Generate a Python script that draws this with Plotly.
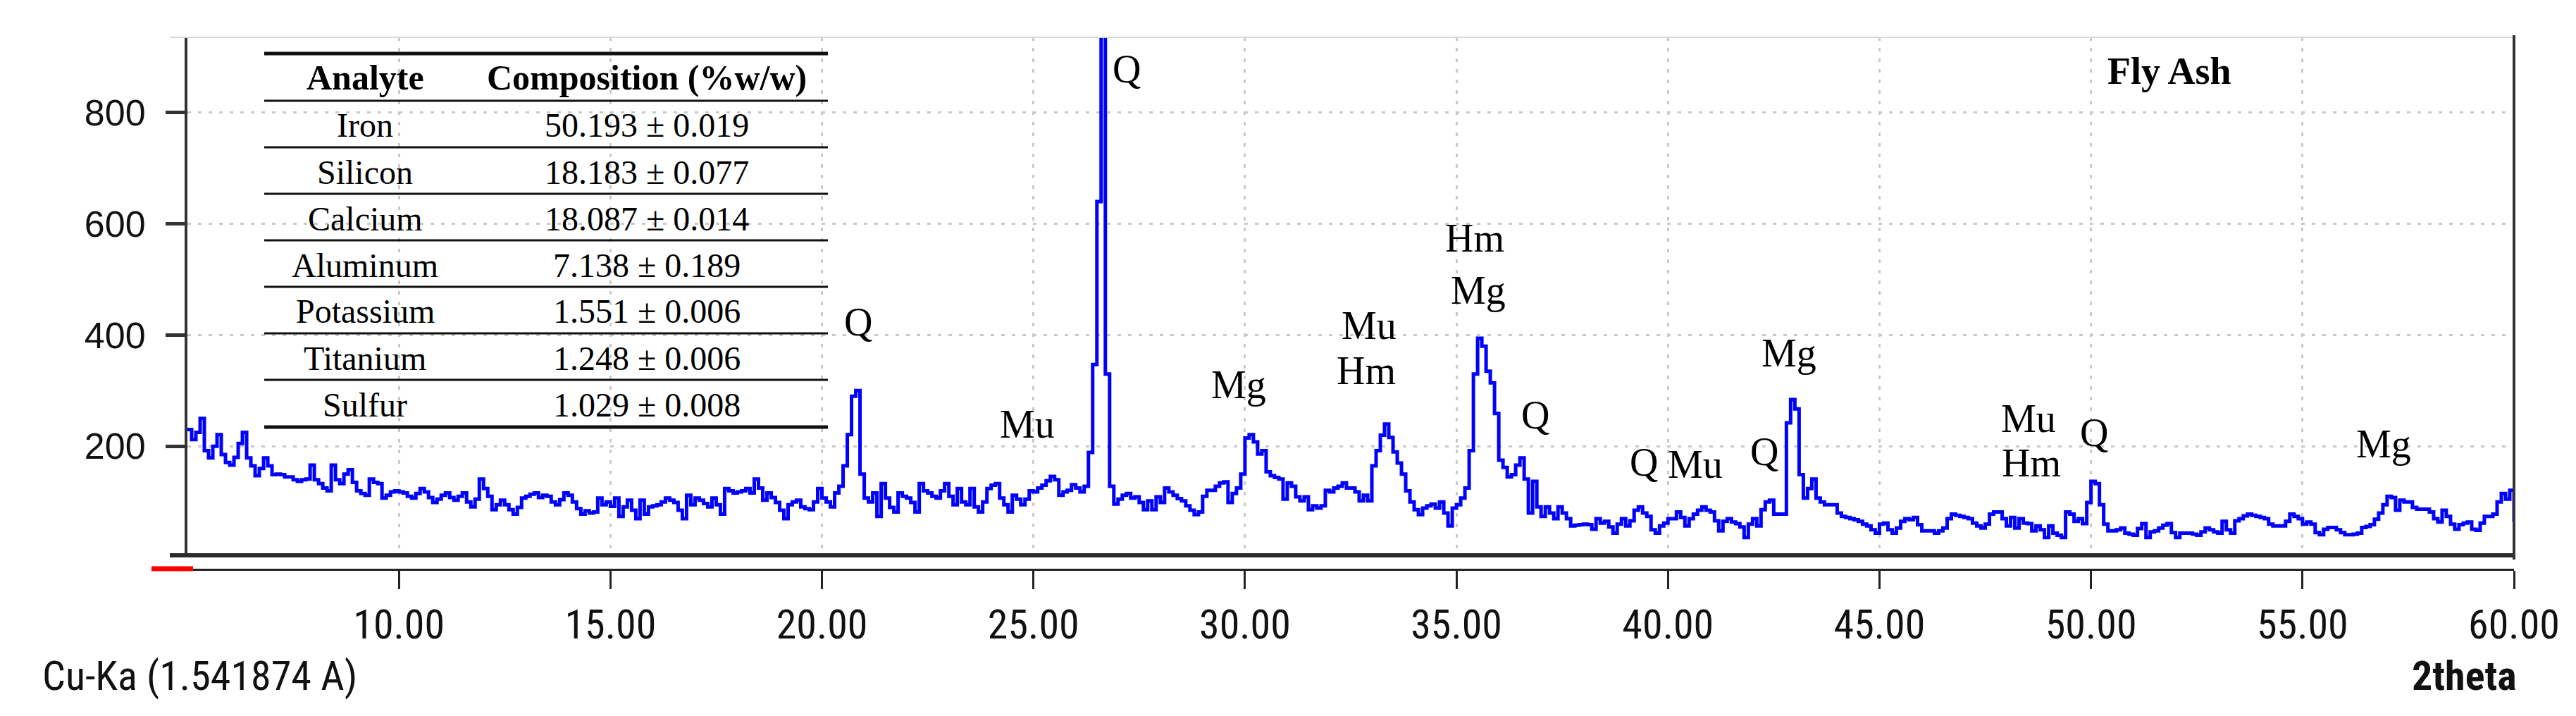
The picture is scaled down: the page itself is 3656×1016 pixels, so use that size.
import numpy as np
import plotly.graph_objects as go

# ---------------- data ----------------
intensity_05_15 = [
    230, 212, 225, 250, 192, 179, 200, 221, 185, 171,
    166, 180, 205, 225, 179, 165, 147, 160, 179, 165,
    149, 150, 149, 145, 145, 140, 137, 140, 141, 166,
    140, 133, 125, 120, 166, 140, 133, 150, 158, 135,
    120, 115, 112, 141, 135, 133, 107, 112, 118, 120,
    118, 116, 110, 107, 115, 124, 118, 108, 99, 105,
    112, 116, 108, 103, 110, 116, 100, 91, 105, 141,
    124, 110, 86, 95, 103, 95, 86, 78, 90, 107,
    110, 114, 116, 108, 112, 110, 100, 95, 104, 116,
    112, 100, 88, 78, 84, 80, 82, 107, 95, 100,
]
intensity_15_25 = [
    92, 107, 74, 91, 103, 85, 70, 103, 78, 91,
    93, 95, 100, 107, 103, 99, 85, 70, 112, 95,
    107, 103, 97, 91, 107, 95, 78, 124, 120, 116,
    118, 120, 124, 116, 141, 125, 103, 116, 108, 99,
    85, 70, 95, 100, 103, 91, 88, 86, 100, 124,
    107, 100, 91, 116, 128, 165, 221, 290, 300, 150,
    107, 100, 116, 74, 133, 107, 90, 82, 116, 110,
    107, 99, 82, 133, 120, 116, 110, 107, 120, 133,
    110, 95, 124, 100, 95, 124, 91, 82, 100, 124,
    130, 133, 107, 95, 82, 112, 105, 95, 105, 120,
]
intensity_25_35 = [
    118, 125, 130, 138, 146, 140, 112, 118, 121, 131,
    125, 118, 128, 189, 347, 640, 1000, 330, 128, 96,
    105, 112, 115, 107, 109, 99, 86, 102, 86, 109,
    99, 125, 118, 112, 106, 102, 93, 85, 77, 82,
    110, 121, 121, 128, 134, 136, 99, 115, 125, 150,
    215, 221, 208, 186, 192, 154, 147, 144, 141, 105,
    134, 128, 109, 102, 109, 86, 93, 89, 93, 121,
    118, 125, 128, 134, 125, 125, 118, 102, 112, 102,
    165, 192, 220, 240, 216, 190, 170, 150, 120, 100,
    86, 77, 89, 93, 96, 89, 100, 80, 57, 89,
]
intensity_35_45 = [
    95, 107, 125, 192, 330, 394, 380, 335, 314, 259,
    175, 162, 145, 149, 166, 179, 141, 80, 137, 91,
    74, 91, 80, 70, 91, 80, 70, 57, 58, 59,
    60, 59, 51, 70, 62, 65, 55, 44, 60, 70,
    57, 66, 85, 91, 80, 74, 50, 44, 57, 62,
    70, 70, 82, 72, 57, 70, 78, 85, 91, 85,
    82, 66, 48, 65, 70, 64, 61, 55, 36, 60,
    70, 57, 86, 100, 103, 78, 78, 78, 242, 284,
    267, 149, 107, 124, 141, 107, 100, 95, 95, 95,
    80, 74, 72, 70, 68, 65, 60, 57, 50, 44,
]
intensity_45_55 = [
    60, 62, 50, 44, 53, 65, 70, 68, 72, 59,
    48, 48, 48, 44, 48, 53, 70, 78, 76, 74,
    72, 70, 62, 57, 53, 60, 78, 82, 82, 70,
    57, 72, 53, 70, 62, 61, 48, 57, 50, 36,
    57, 44, 40, 36, 82, 78, 65, 70, 61, 99,
    137, 133, 95, 60, 48, 48, 50, 53, 44, 42,
    40, 52, 61, 36, 46, 48, 53, 58, 61, 45,
    36, 44, 44, 44, 42, 40, 46, 53, 50, 46,
    44, 65, 50, 44, 66, 70, 75, 78, 76, 74,
    72, 70, 60, 57, 57, 57, 65, 78, 74, 70,
]
intensity_55_60 = [
    60, 64, 60, 45, 41, 51, 54, 54, 50, 45,
    41, 41, 42, 44, 54, 56, 59, 69, 80, 95,
    110, 108, 85, 103, 100, 100, 90, 87, 87, 87,
    82, 70, 64, 85, 74, 60, 51, 59, 62, 64,
    51, 49, 62, 74, 74, 78, 100, 115, 105, 121,
    64,
]
intensity = (intensity_05_15 + intensity_15_25 + intensity_25_35
             + intensity_35_45 + intensity_45_55 + intensity_55_60)
two_theta = np.round(5.0 + 0.1 * np.arange(len(intensity)), 1)

x_tick_vals = [10, 15, 20, 25, 30, 35, 40, 45, 50, 55, 60]
x_tick_text = ["10.00", "15.00", "20.00", "25.00", "30.00", "35.00",
               "40.00", "45.00", "50.00", "55.00", "60.00"]
y_tick_vals = [200, 400, 600, 800]
y_tick_text = ["200", "400", "600", "800"]

peak_labels = ["Q", "Mu", "Q", "Mg", "Mu", "Hm", "Hm", "Mg", "Q", "Q",
               "Mu", "Q", "Mg", "Mu", "Hm", "Q", "Mg"]
peak_label_x = [20.86, 24.85, 27.20, 29.85, 32.93, 32.87, 35.43, 35.51, 36.86,
                39.43, 40.64, 42.27, 42.86, 48.53, 48.59, 50.07, 56.92]
peak_label_y = [423, 239, 878, 310, 417, 336, 574, 480, 256, 171,
                167, 190, 367, 250, 170, 225, 204]

table_header = ["Analyte", "Composition (%w/w)"]
table_analytes = ["Iron", "Silicon", "Calcium", "Aluminum", "Potassium",
                  "Titanium", "Sulfur"]
table_compositions = ["50.193 ± 0.019", "18.183 ± 0.077", "18.087 ± 0.014",
                      "7.138 ± 0.189", "1.551 ± 0.006", "1.248 ± 0.006",
                      "1.029 ± 0.008"]

# ---------------- layout geometry ----------------
W, H = 3656, 1016
L, R, T, B = 258, 96, 45, 216
PW, PH = W - L - R, H - T - B


def px_x(px):
    return (px - L) / PW


def px_y(py):
    return (H - B - py) / PH


SANS = "Liberation Sans, Arial, sans-serif"
NARROW = "Liberation Sans Narrow, Arial Narrow, Roboto Condensed, Liberation Sans, Arial, sans-serif"
SERIF = "Liberation Serif, Times New Roman, serif"
GRID = "#c9c9c9"

fig = go.Figure(go.Scatter(
    x=two_theta, y=intensity, mode="lines",
    line=dict(color="#0000ff", width=5, shape="hv"),
    showlegend=False, hoverinfo="skip",
))

shapes = []


def hline(x0, x1, y, color, width, layer="above"):
    shapes.append(dict(type="line", xref="paper", yref="paper",
                       x0=px_x(x0), x1=px_x(x1), y0=px_y(y), y1=px_y(y),
                       line=dict(color=color, width=width), layer=layer))


def vline(x, y0, y1, color, width, layer="above"):
    shapes.append(dict(type="line", xref="paper", yref="paper",
                       x0=px_x(x), x1=px_x(x), y0=px_y(y0), y1=px_y(y1),
                       line=dict(color=color, width=width), layer=layer))


def box(x0, x1, y0, y1):
    shapes.append(dict(type="rect", xref="paper", yref="paper",
                       x0=px_x(x0), x1=px_x(x1), y0=px_y(y1), y1=px_y(y0),
                       fillcolor="white", line=dict(width=0), layer="between"))


# white backgrounds of the table and of the sample-name box
box(362, 1180, 60, 606)
box(2590, 3545, 48, 163)

# frame
hline(233, 3562, 45, "#d6d6d6", 2)
hline(233, 3562, 780, "#2a2a2a", 6)
hline(233, 260, 800, "#222222", 3)
vline(3560, 42, 786, "#333333", 4)
hline(207, 266, 799, "#ff0000", 7)

# table rules
tx0, tx1 = 367, 1167
rule_y = [68, 135, 201, 267, 333, 399, 465, 531, 598]
for i, ry in enumerate(rule_y):
    w = 5 if i in (0, len(rule_y) - 1) else 3
    hline(tx0, tx1, ry, "#111111", w)

annotations = []
col_x = [510, 910]
for cx, txt in zip(col_x, table_header):
    annotations.append(dict(xref="paper", yref="paper", x=px_x(cx), y=px_y(102),
                            text="<b>" + txt + "</b>", showarrow=False,
                            xanchor="center", yanchor="middle",
                            font=dict(family=SERIF, size=50, color="black")))
for i, (a, c) in enumerate(zip(table_analytes, table_compositions)):
    ry = 170 + 66 * i
    annotations.append(dict(xref="paper", yref="paper", x=px_x(col_x[0]), y=px_y(ry),
                            text=a, showarrow=False, xanchor="center", yanchor="middle",
                            font=dict(family=SERIF, size=48, color="black")))
    annotations.append(dict(xref="paper", yref="paper", x=px_x(col_x[1]), y=px_y(ry),
                            text=c, showarrow=False, xanchor="center", yanchor="middle",
                            font=dict(family=SERIF, size=48, color="black")))

for lab, lx, ly in zip(peak_labels, peak_label_x, peak_label_y):
    annotations.append(dict(x=lx, y=ly, xref="x", yref="y", text=lab, showarrow=False,
                            xanchor="center", yanchor="middle",
                            font=dict(family=SERIF, size=56, color="black")))

annotations.append(dict(x=51.85, y=874, xref="x", yref="y", text="<b>Fly Ash</b>",
                        showarrow=False, xanchor="center", yanchor="middle",
                        font=dict(family=SERIF, size=54, color="black")))

annotations.append(dict(xref="paper", yref="paper", x=px_x(50), y=px_y(951),
                        text="Cu-Ka (1.541874 A)", showarrow=False,
                        xanchor="left", yanchor="middle",
                        font=dict(family=NARROW, size=58, color="#111111")))
annotations.append(dict(xref="paper", yref="paper", x=px_x(3566), y=px_y(951),
                        text="<b>2theta</b>", showarrow=False,
                        xanchor="right", yanchor="middle",
                        font=dict(family=NARROW, size=58, color="#111111")))

fig.update_layout(
    width=W, height=H,
    margin=dict(l=L, r=R, t=T, b=B, pad=0),
    paper_bgcolor="white", plot_bgcolor="white",
    shapes=shapes, annotations=annotations,
    xaxis=dict(
        range=[5, 60], anchor="free", position=0,
        tickvals=x_tick_vals, ticktext=x_tick_text,
        ticks="outside", ticklen=26, tickwidth=3, tickcolor="#222222",
        showline=True, linewidth=3, linecolor="#222222",
        showgrid=True, gridcolor=GRID, gridwidth=3, griddash="5px,10px",
        zeroline=False,
        tickfont=dict(family=NARROW, size=58, color="#111111"),
        ticklabelstandoff=0,
    ),
    yaxis=dict(
        domain=[px_y(780), 1.0],
        range=[4, 935],
        tickvals=y_tick_vals, ticktext=y_tick_text,
        ticks="outside", ticklen=27, tickwidth=5, tickcolor="#333333",
        showline=True, linewidth=4, linecolor="#333333",
        showgrid=True, gridcolor=GRID, gridwidth=3, griddash="5px,10px",
        zeroline=False,
        tickfont=dict(family=SANS, size=52, color="#111111"),
        ticklabelstandoff=18,
    ),
)

fig.write_html("out.html")
